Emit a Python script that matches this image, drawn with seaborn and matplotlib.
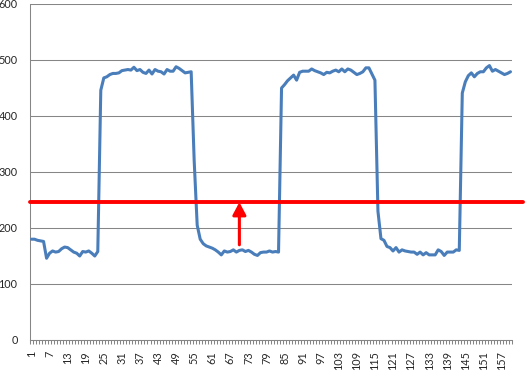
import numpy as np
import pandas as pd
import seaborn as sns
import matplotlib.pyplot as plt
import matplotlib.ticker as ticker

# readings per sample, split into the low / high stretches of the trace
low_1 = [180, 180, 178, 177, 176, 146, 155, 159, 157, 158, 163, 166, 165, 161,
         157, 155, 150, 158, 157, 159, 155, 150, 158]
high_1 = [446, 468, 470, 474, 476, 476, 477, 481, 482, 483, 482, 487, 481, 483,
          478, 476, 482, 475, 483, 480, 479, 475, 483, 480, 480, 488, 485, 481,
          477, 478, 479]
low_2 = [320, 205, 180, 172, 168, 166, 164, 161, 157, 152, 159, 157, 158, 161,
         157, 160, 161, 158, 160, 157, 153, 151, 156, 157, 157, 159, 157, 158, 157]
high_2 = [450, 456, 463, 468, 473, 464, 478, 480, 480, 480, 484, 481, 479, 477,
          474, 478, 477, 480, 482, 479, 484, 479, 484, 482, 478, 474, 476, 479,
          486, 486, 475, 464]
low_3 = [230, 181, 178, 167, 165, 159, 165, 157, 161, 159, 158, 157, 157, 153,
         157, 152, 156, 152, 152, 152, 161, 158, 151, 157, 157, 157, 161, 160]
high_3 = [441, 461, 472, 477, 470, 476, 479, 479, 486, 490, 480, 483, 480, 477,
          474, 476, 479]

threshold = 246      # red horizontal line
arrow_sample = 70    # red arrow position
arrow_start = 170    # red arrow base

values = low_1 + high_1 + low_2 + high_2 + low_3 + high_3
df = pd.DataFrame({'sample': np.arange(1, len(values) + 1), 'value': values})

sns.set_style('white')
plt.rcParams['font.family'] = ['Lato', 'DejaVu Sans']

fig = plt.figure(figsize=(5.32, 3.81), dpi=100)
ax = fig.add_axes([30 / 532, 41 / 381, 482 / 532, 336 / 381])

sns.lineplot(data=df, x='sample', y='value', color='#4A7EBB', lw=2.2, ax=ax, zorder=3)

ax.set_xlim(0.5, len(values) + 0.5)
ax.set_ylim(0, 600)
ax.yaxis.set_major_locator(ticker.MultipleLocator(100))
ax.set_xticks(df['sample'][::6])
ax.set_xticks(np.arange(0.5, len(values) + 1), minor=True)
ax.tick_params(axis='x', which='major', bottom=True, length=0, pad=8,
               labelrotation=90, labelsize=7.8)
ax.tick_params(axis='x', which='minor', bottom=True, length=3, width=0.75,
               color='#868686', direction='out')
ax.tick_params(axis='y', left=True, length=0, pad=9, labelsize=7.8)

ax.grid(True, axis='y', which='major', color='#868686', lw=0.75)
ax.grid(False, axis='x')
ax.spines[['top', 'right']].set_visible(False)
ax.spines[['left', 'bottom']].set_color('#868686')
ax.spines[['left', 'bottom']].set_linewidth(0.75)
ax.set_xlabel('')
ax.set_ylabel('')

# threshold line runs a little past the plot area
ax.axhline(threshold, xmin=0, xmax=(523 - 30) / 482, color='#FF0000', lw=2.8,
           clip_on=False, zorder=4)
ax.annotate('', xy=(arrow_sample, threshold), xytext=(arrow_sample, arrow_start),
            arrowprops=dict(arrowstyle='-|>,head_width=0.4,head_length=0.75',
                            color='#FF0000', lw=2.2, shrinkA=0, shrinkB=0,
                            mutation_scale=10), zorder=5)

fig.savefig('out.png', dpi=100)
